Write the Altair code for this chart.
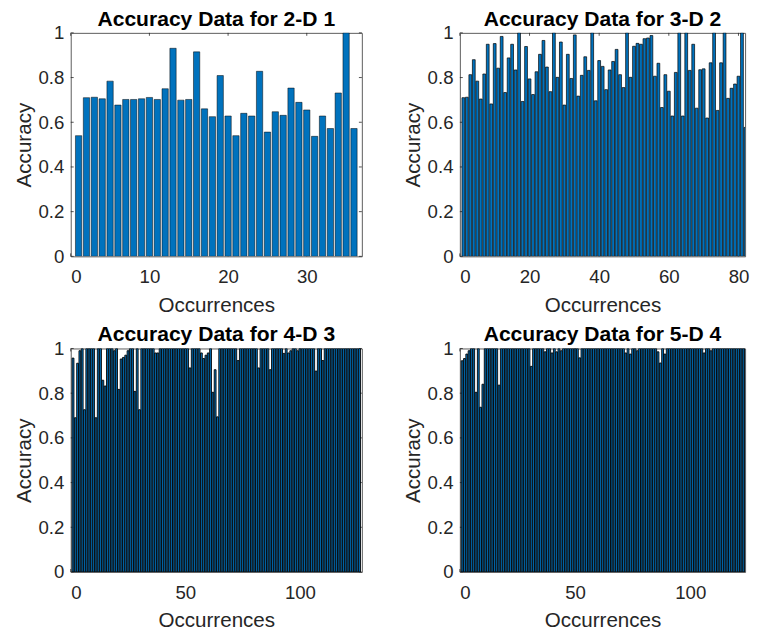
import altair as alt
import pandas as pd

# ---- data ----
acc_2d = [0.54, 0.71, 0.712, 0.705, 0.784, 0.677, 0.702, 0.702, 0.705, 0.711,
          0.702, 0.75, 0.931, 0.699, 0.702, 0.915, 0.66, 0.625, 0.809, 0.628,
          0.54, 0.64, 0.628, 0.828, 0.556, 0.647, 0.631, 0.753, 0.689, 0.655,
          0.537, 0.628, 0.572, 0.731, 1.0, 0.572]

acc_3d = [0.71, 0.712, 0.813, 0.88, 0.784, 0.704, 0.816, 0.949, 0.682, 0.952,
          0.842, 0.984, 0.733, 0.888, 0.949, 0.834, 1.0, 0.693, 0.939, 0.794,
          0.724, 0.826, 0.904, 0.966, 0.847, 0.737, 1.0, 0.801, 0.959, 0.677,
          0.904, 0.796, 0.991, 0.717, 0.81, 0.893, 0.832, 1.0, 0.696, 0.876,
          0.85, 0.746, 0.834, 0.872, 0.926, 0.813, 0.755, 1.0, 0.801, 0.94,
          0.953, 0.949, 0.974, 0.977, 0.988, 0.806, 0.864, 0.666, 0.813, 0.739,
          0.628, 0.823, 1.0, 0.628, 1.0, 0.832, 0.949, 0.663, 0.835, 0.839,
          0.619, 0.866, 1.0, 0.653, 0.866, 1.0, 0.707, 0.752, 0.771, 0.806,
          1.0, 0.577]

acc_4d = [0.957, 0.69, 0.934, 0.99, 1.0, 0.726, 1.0, 1.0, 1.0, 1.0,
          0.69, 1.0, 1.0, 0.858, 0.832, 1.0, 1.0, 1.0, 0.99, 1.0,
          0.817, 0.953, 0.96, 0.97, 0.99, 1.0, 1.0, 0.808, 1.0, 0.726,
          1.0, 1.0, 1.0, 1.0, 1.0, 1.0, 0.98, 0.98, 1.0, 1.0,
          1.0, 1.0, 1.0, 1.0, 1.0, 1.0, 1.0, 1.0, 1.0, 1.0,
          1.0, 0.913, 1.0, 1.0, 1.0, 1.0, 0.98, 0.955, 0.97, 0.98,
          1.0, 0.804, 0.905, 0.694, 1.0, 1.0, 1.0, 1.0, 1.0, 1.0,
          1.0, 1.0, 0.946, 1.0, 1.0, 1.0, 1.0, 1.0, 1.0, 1.0,
          1.0, 0.913, 1.0, 1.0, 1.0, 1.0, 0.905, 1.0, 1.0, 1.0,
          1.0, 1.0, 0.978, 1.0, 0.98, 0.99, 1.0, 1.0, 0.99, 1.0,
          1.0, 1.0, 1.0, 1.0, 1.0, 1.0, 0.899, 1.0, 1.0, 0.946,
          1.0, 1.0, 1.0, 1.0, 1.0, 1.0, 1.0, 1.0, 1.0, 1.0,
          1.0, 1.0, 1.0, 1.0, 1.0, 1.0]

acc_5d = [0.945, 0.955, 0.975, 0.99, 1.0, 1.0, 0.804, 1.0, 0.737, 0.84,
          1.0, 1.0, 1.0, 1.0, 1.0, 1.0, 0.836, 1.0, 1.0, 1.0,
          1.0, 1.0, 1.0, 1.0, 1.0, 1.0, 1.0, 1.0, 1.0, 1.0,
          0.92, 1.0, 1.0, 1.0, 1.0, 1.0, 0.985, 1.0, 1.0, 0.98,
          1.0, 0.985, 1.0, 0.99, 1.0, 1.0, 1.0, 1.0, 1.0, 1.0,
          1.0, 0.958, 1.0, 1.0, 1.0, 1.0, 1.0, 1.0, 1.0, 1.0,
          1.0, 1.0, 1.0, 1.0, 1.0, 1.0, 1.0, 1.0, 1.0, 1.0,
          1.0, 0.98, 1.0, 0.975, 1.0, 1.0, 0.99, 1.0, 1.0, 1.0,
          1.0, 1.0, 1.0, 1.0, 1.0, 0.985, 0.935, 1.0, 0.975, 1.0,
          1.0, 1.0, 1.0, 1.0, 1.0, 1.0, 1.0, 1.0, 1.0, 1.0,
          1.0, 1.0, 1.0, 1.0, 1.0, 0.98, 1.0, 1.0, 0.99, 1.0,
          1.0, 1.0, 1.0, 1.0, 1.0, 1.0, 1.0, 1.0, 1.0, 1.0,
          1.0, 1.0, 1.0, 1.0, 1.0, 1.0]

titles = ["Accuracy Data for 2-D 1", "Accuracy Data for 3-D 2",
          "Accuracy Data for 4-D 3", "Accuracy Data for 5-D 4"]
x_ticks_1 = [0, 10, 20, 30]
x_ticks_2 = [0, 20, 40, 60, 80]
x_ticks_3 = [0, 50, 100]
y_ticks = [0, 0.2, 0.4, 0.6, 0.8, 1]

FONT = "Liberation Sans"
TXT = "#262626"
H = 228


def panel(vals, title, xmax, width, xticks, right_side=True, sw=0.5):
    df = pd.DataFrame({"i": list(range(1, len(vals) + 1)), "v": vals})
    xs = alt.Scale(domain=[0, xmax], nice=False, zero=False)
    ys = alt.Scale(domain=[0, 1], nice=False)
    ax_x = alt.Axis(values=xticks, title="Occurrences", format="d")
    ax_y = alt.Axis(values=y_ticks, title="Accuracy", format=".1~f")

    bars = alt.Chart(df).transform_calculate(
        x0="datum.i - 0.4", x1="datum.i + 0.4"
    ).mark_bar(fill="#0072BD", stroke="#000000", strokeWidth=sw,
               clip=True, opacity=1).encode(
        x=alt.X("x0:Q", scale=xs, axis=ax_x, title="Occurrences"),
        x2="x1:Q",
        y=alt.Y("v:Q", scale=ys, axis=ax_y, title="Accuracy"),
        y2=alt.datum(0),
    )

    ydf = pd.DataFrame({"t": y_ticks})
    xdf = pd.DataFrame({"t": xticks})
    tick_style = dict(color=TXT, strokeWidth=0.8)
    layers = [
        alt.Chart(ydf).mark_rule(**tick_style).encode(
            y=alt.Y("t:Q", scale=ys, axis=ax_y, title="Accuracy"),
            x=alt.value(0), x2=alt.value(3)),
        alt.Chart(xdf).mark_rule(**tick_style).encode(
            x=alt.X("t:Q", scale=xs, axis=ax_x, title="Occurrences"),
            y=alt.value(0), y2=alt.value(3)),
        alt.Chart(xdf).mark_rule(**tick_style).encode(
            x=alt.X("t:Q", scale=xs, axis=ax_x, title="Occurrences"),
            y=alt.value(H - 3), y2=alt.value(H)),
    ]
    if right_side:
        layers.append(
            alt.Chart(ydf).mark_rule(**tick_style).encode(
                y=alt.Y("t:Q", scale=ys, axis=ax_y, title="Accuracy"),
                x=alt.value(width - 3), x2=alt.value(width)))
    layers.append(bars)
    return alt.layer(*layers).properties(
        width=width, height=H,
        title=alt.TitleParams(title, fontSize=21.5, fontWeight="bold", font=FONT,
                              color="#000000", offset=-6),
    )


p1 = panel(acc_2d, titles[0], 37, 297, x_ticks_1)
p2 = panel(acc_3d, titles[1], 81.9, 291, x_ticks_2, right_side=False, sw=0.7)
p3 = panel(acc_4d, titles[2], 127, 297, x_ticks_3, sw=0.9)
p4 = panel(acc_5d, titles[3], 123.8, 291, x_ticks_3, right_side=False, sw=0.9)

chart = alt.vconcat(
    alt.hconcat(p1, p2, spacing=40),
    alt.hconcat(p3, p4, spacing=40),
    spacing=8,
).properties(
    padding={"left": 5, "top": -6, "right": 0, "bottom": 0},
    background="white",
).configure_view(
    stroke="#5a5a5a", strokeWidth=1
).configure_axis(
    labelFont=FONT, labelFontSize=19, labelColor=TXT,
    titleFont=FONT, titleFontSize=21, titleFontWeight="normal", titleColor=TXT,
    domain=False, ticks=False, grid=False, labelPadding=7, titlePadding=4,
).configure_axisX(labelPadding=12, titlePadding=8)

chart.save("out.html", embed_options={"renderer": "svg", "actions": False})
